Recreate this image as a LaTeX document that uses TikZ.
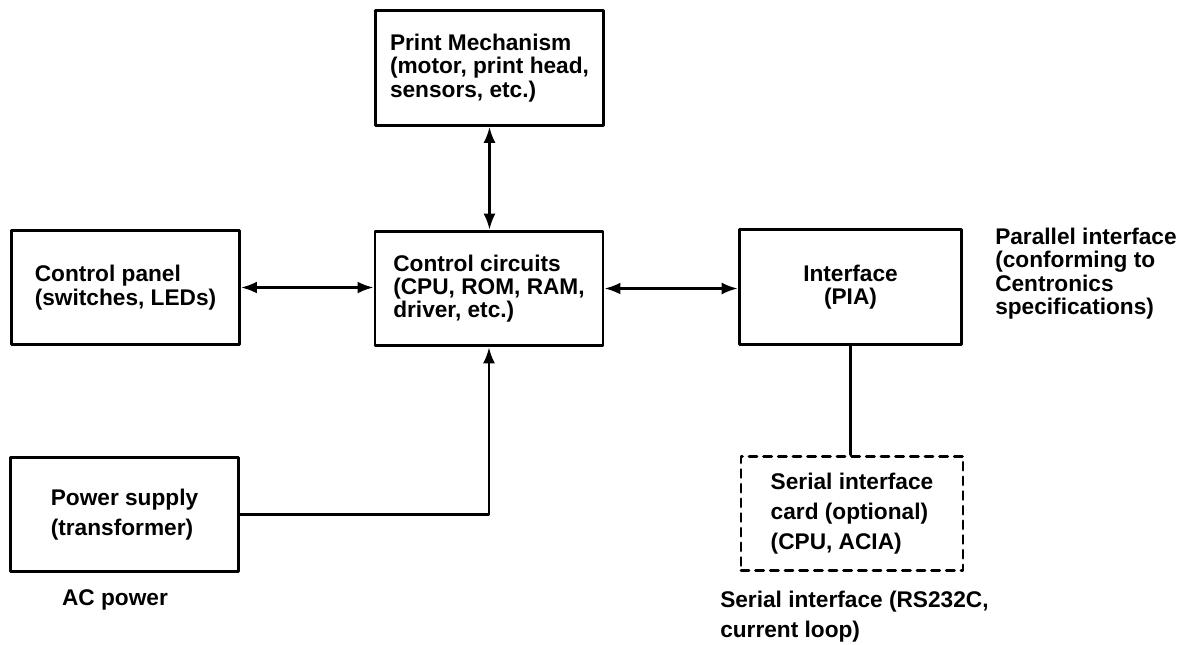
\documentclass[tikz,border=0pt]{standalone}
\usepackage{fontspec}
\setmainfont{Liberation Sans}
\usetikzlibrary{arrows.meta}

\begin{document}
\begin{tikzpicture}[x=0.75pt, y=-0.75pt, >={Latex[length=12pt,width=9pt]},
  line cap=round, line join=round,
  blk/.style={draw, line width=2.2pt, align=left, inner sep=0pt,
    minimum width=\bw, minimum height=\bh,
    font=\bfseries\fontsize{17}{17.5}\selectfont},
  loose/.style={font=\bfseries\fontsize{17}{22.5}\selectfont},
  lnk/.style={line width=1.9pt},
  lbl/.style={align=left, inner sep=0pt, font=\bfseries\fontsize{17}{17.5}\selectfont}]
% ---------- parameters ----------
\def\bw{171pt}   % block width
\def\bh{86pt}    % block height

\useasboundingbox (0,0) rectangle (1179,644);

% ---------- blocks ----------
\node[blk] (printmech) at (489.5,68) {Print Mechanism\\(motor, print head,\\sensors, etc.)};
\node[blk] (panel) at (125.5,287.5) {Control panel\\(switches, LEDs)};
\node[blk] (ctrl) at (489,288.5) {Control circuits\\(CPU, ROM, RAM,\\driver, etc.)};
\node[blk, align=center, minimum width=167pt] (iface) at (850.5,287) {Interface\\(PIA)};
\node[blk, loose] (power) at (124.5,514.5) {Power supply\\(transformer)};
\node[blk, loose, dashed, dash pattern=on 6pt off 5pt, minimum width=166.5pt] (serial) at (852,513.5)
  {Serial interface\\card (optional)\\(CPU, ACIA)};

% ---------- outside labels ----------
\node[lbl] (acpow) at (115,600) {AC power};
\node[lbl, anchor=west] (parlbl) at (995,273.5) {Parallel interface\\(conforming to\\Centronics\\specifications)};
\node[lbl, anchor=west, loose] (serlbl) at (720,617) {Serial interface (RS232C,\\current loop)};

% ---------- connections ----------
\draw[lnk,<->] (printmech.south) -- (printmech.south |- ctrl.north);
\draw[lnk,<->] (panel.east) -- (panel.east -| ctrl.west);
\draw[lnk,<->] (ctrl.east) -- (ctrl.east -| iface.west);
\draw[lnk,->] (power.east) -| (ctrl.south);
\draw[lnk] (iface.south) -- (iface.south |- serial.north);

\end{tikzpicture}
\end{document}
